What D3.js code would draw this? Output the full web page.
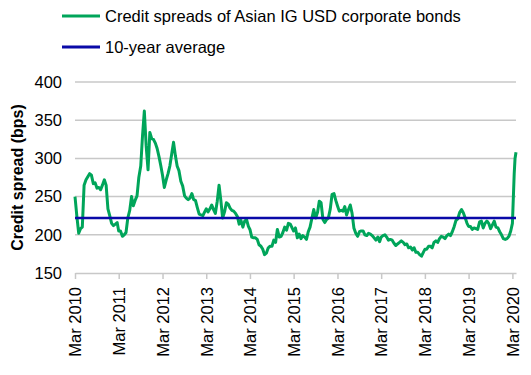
<!DOCTYPE html>
<html>
<head>
<meta charset="utf-8">
<script src="https://cdn.jsdelivr.net/npm/d3@7/dist/d3.min.js"></script>
<style>
  body { margin: 0; background: #fff; }
  svg { font-family: Arial, "Liberation Sans", sans-serif; }
</style>
</head>
<body>
<div id="chart"></div>
<script>
const dates = [
  "2010-03-01","2010-03-16","2010-04-01","2010-04-16","2010-05-01","2010-05-16","2010-06-01","2010-06-16","2010-07-01","2010-07-16","2010-08-01","2010-08-16","2010-09-01","2010-09-16","2010-10-01","2010-10-16","2010-11-01","2010-11-16","2010-12-01","2010-12-16","2011-01-01","2011-01-16","2011-02-01","2011-02-16",
  "2011-03-01","2011-03-16","2011-04-01","2011-04-16","2011-05-01","2011-05-16","2011-06-01","2011-06-16","2011-07-01","2011-07-16","2011-08-01","2011-08-16","2011-09-01","2011-09-16","2011-10-01","2011-10-16","2011-11-01","2011-11-16","2011-12-01","2011-12-16","2012-01-01","2012-01-16","2012-02-01","2012-02-16",
  "2012-03-01","2012-03-16","2012-04-01","2012-04-16","2012-05-01","2012-05-16","2012-06-01","2012-06-16","2012-07-01","2012-07-16","2012-08-01","2012-08-16","2012-09-01","2012-09-16","2012-10-01","2012-10-16","2012-11-01","2012-11-16","2012-12-01","2012-12-16","2013-01-01","2013-01-16","2013-02-01","2013-02-16",
  "2013-03-01","2013-03-16","2013-04-01","2013-04-16","2013-05-01","2013-05-16","2013-06-01","2013-06-16","2013-07-01","2013-07-16","2013-08-01","2013-08-16","2013-09-01","2013-09-16","2013-10-01","2013-10-16","2013-11-01","2013-11-16","2013-12-01","2013-12-16","2014-01-01","2014-01-16","2014-02-01","2014-02-16",
  "2014-03-01","2014-03-16","2014-04-01","2014-04-16","2014-05-01","2014-05-16","2014-06-01","2014-06-16","2014-07-01","2014-07-16","2014-08-01","2014-08-16","2014-09-01","2014-09-16","2014-10-01","2014-10-16","2014-11-01","2014-11-16","2014-12-01","2014-12-16","2015-01-01","2015-01-16","2015-02-01","2015-02-16",
  "2015-03-01","2015-03-16","2015-04-01","2015-04-16","2015-05-01","2015-05-16","2015-06-01","2015-06-16","2015-07-01","2015-07-16","2015-08-01","2015-08-16","2015-09-01","2015-09-16","2015-10-01","2015-10-16","2015-11-01","2015-11-16","2015-12-01","2015-12-16","2016-01-01","2016-01-16","2016-02-01","2016-02-16",
  "2016-03-01","2016-03-16","2016-04-01","2016-04-16","2016-05-01","2016-05-16","2016-06-01","2016-06-16","2016-07-01","2016-07-16","2016-08-01","2016-08-16","2016-09-01","2016-09-16","2016-10-01","2016-10-16","2016-11-01","2016-11-16","2016-12-01","2016-12-16","2017-01-01","2017-01-16","2017-02-01","2017-02-16",
  "2017-03-01","2017-03-16","2017-04-01","2017-04-16","2017-05-01","2017-05-16","2017-06-01","2017-06-16","2017-07-01","2017-07-16","2017-08-01","2017-08-16","2017-09-01","2017-09-16","2017-10-01","2017-10-16","2017-11-01","2017-11-16","2017-12-01","2017-12-16","2018-01-01","2018-01-16","2018-02-01","2018-02-16",
  "2018-03-01","2018-03-16","2018-04-01","2018-04-16","2018-05-01","2018-05-16","2018-06-01","2018-06-16","2018-07-01","2018-07-16","2018-08-01","2018-08-16","2018-09-01","2018-09-16","2018-10-01","2018-10-16","2018-11-01","2018-11-16","2018-12-01","2018-12-16","2019-01-01","2019-01-16","2019-02-01","2019-02-16",
  "2019-03-01","2019-03-16","2019-04-01","2019-04-16","2019-05-01","2019-05-16","2019-06-01","2019-06-16","2019-07-01","2019-07-16","2019-08-01","2019-08-16","2019-09-01","2019-09-16","2019-10-01","2019-10-16","2019-11-01","2019-11-16","2019-12-01","2019-12-16","2020-01-01","2020-01-16","2020-02-01","2020-02-16",
  "2020-03-01","2020-03-16","2020-03-23","2020-03-31"
];

const spreads = [
  250,225,202,208,210,265,272,276,280,278,267,268,261,262,259,265,272,265,234,225,215,212,214,216,
  205,205,198,200,203,222,232,250,238,245,251,275,290,330,362,317,285,334,326,325,320,313,302,290,
  278,262,272,280,290,305,321,304,290,284,270,264,251,248,246,248,254,246,245,236,227,226,225,230,
  234,230,234,239,233,228,244,265,245,222,230,242,240,235,232,231,228,224,214,219,210,218,220,211,
  207,197,196,196,194,187,185,181,174,176,183,185,185,193,190,207,197,198,203,210,206,215,214,209,
  205,209,196,201,195,199,197,194,204,210,222,233,222,229,244,242,220,216,220,222,234,253,254,245,
  238,231,232,231,237,226,233,239,228,209,202,198,204,205,205,200,199,202,201,199,196,193,197,191,
  197,199,200,197,193,194,193,189,186,188,190,192,190,187,188,183,184,180,183,177,177,174,172,177,
  181,181,185,185,183,190,192,190,195,198,197,195,199,201,199,204,211,219,221,229,233,229,222,215,
  211,211,207,209,208,207,217,218,209,215,218,215,208,213,218,210,209,204,200,195,194,195,198,205,
  215,280,300,308
];

const tenYearAverage = 222;
const yTicks = [150, 200, 250, 300, 350, 400];
const xTickYears = [2010, 2011, 2012, 2013, 2014, 2015, 2016, 2017, 2018, 2019, 2020];
const legendLabels = ["Credit spreads of Asian IG USD corporate bonds", "10-year average"];

const W = 531, H = 375,
  m = {left: 75, right: 15, top: 82, bottom: 102},
  green = "#00a55a", blue = "#0a0aa8";

const parse = d3.timeParse("%Y-%m-%d");
const rows = dates.map((d, i) => ({date: parse(d), v: spreads[i]}));

const svg = d3.select("#chart").append("svg")
  .attr("width", W)
  .attr("height", H);

const x = d3.scaleTime()
  .domain(d3.extent(rows, d => d.date))
  .range([m.left, W - m.right]);
const y = d3.scaleLinear()
  .domain([150, 400])
  .range([H - m.bottom, m.top]);

// gridlines
svg.append("g")
  .selectAll("line")
  .data(yTicks.slice(1))
  .join("line")
  .attr("x1", m.left).attr("x2", W - m.right)
  .attr("y1", d => y(d)).attr("y2", d => y(d))
  .attr("stroke", "#c8c8c8")
  .attr("stroke-width", 1.5);

// y labels
svg.append("g")
  .selectAll("text")
  .data(yTicks)
  .join("text")
  .attr("x", 62)
  .attr("y", d => y(d))
  .attr("dy", "0.35em")
  .attr("text-anchor", "end")
  .attr("font-size", 16.5)
  .text(d => d);

svg.append("text")
  .attr("transform", `translate(23,${(m.top + H - m.bottom) / 2}) rotate(-90)`)
  .attr("text-anchor", "middle")
  .attr("font-size", 16)
  .attr("font-weight", "bold")
  .text("Credit spread (bps)");

// x axis
const xAxis = d3.axisBottom(x)
  .tickValues(xTickYears.map(yr => new Date(yr, 2, 1)))
  .tickFormat(d3.timeFormat("Mar %Y"))
  .tickSize(6)
  .tickSizeOuter(0);

const gx = svg.append("g")
  .attr("transform", `translate(0,${y(150)})`)
  .call(xAxis);
gx.select(".domain").attr("stroke", "#c8c8c8").attr("stroke-width", 1.5);
gx.selectAll(".tick line").attr("stroke", "#c8c8c8").attr("stroke-width", 1.5);
gx.selectAll(".tick text")
  .attr("font-size", 16.5)
  .attr("fill", "#000")
  .attr("text-anchor", "end")
  .attr("transform", "rotate(-90)")
  .attr("x", -14)
  .attr("y", 0)
  .attr("dy", "0.35em");

// series
svg.append("path")
  .datum(rows)
  .attr("fill", "none")
  .attr("stroke", green)
  .attr("stroke-width", 3)
  .attr("stroke-linejoin", "round")
  .attr("d", d3.line().x(d => x(d.date)).y(d => y(d.v)));

svg.append("line")
  .attr("x1", m.left).attr("x2", W - m.right)
  .attr("y1", y(tenYearAverage)).attr("y2", y(tenYearAverage))
  .attr("stroke", blue)
  .attr("stroke-width", 2.5);

// legend
const lg = svg.append("g")
  .selectAll("g")
  .data(legendLabels)
  .join("g")
  .attr("transform", (d, i) => `translate(62,${16 + i * 31})`);
lg.append("line")
  .attr("x1", 0).attr("x2", 38)
  .attr("stroke", (d, i) => i ? blue : green)
  .attr("stroke-width", 3);
lg.append("text")
  .attr("x", 43)
  .attr("dy", "0.35em")
  .attr("font-size", 16.5)
  .text(d => d);
</script>
</body>
</html>
